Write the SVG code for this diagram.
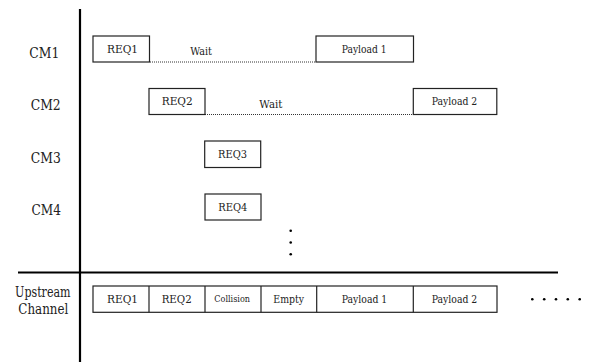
<svg xmlns="http://www.w3.org/2000/svg" width="589" height="362" viewBox="0 0 589 362">
<style>
text{fill:#222;font-family:'DejaVu Serif','Liberation Serif',serif;text-anchor:middle}
.lbl{font-size:14.5px}
.bt{font-size:10.5px}
.sm{font-size:9px}
.box{fill:#fff;stroke:#222;stroke-width:1.2}
.axis{stroke:#000;stroke-width:2.2;fill:none}
.dot{stroke:#333;stroke-width:1;stroke-dasharray:1 1;fill:none}
.d{fill:#000}
</style>
<g id="axes">
<line class="axis" x1="80" y1="9" x2="80" y2="362"/>
<line class="axis" x1="18" y1="272.5" x2="558" y2="272.5"/>
</g>
<g id="labels">
<text class="lbl" x="44.3" y="57.5" textLength="30" lengthAdjust="spacingAndGlyphs">CM1</text>
<text class="lbl" x="45.7" y="110" textLength="30" lengthAdjust="spacingAndGlyphs">CM2</text>
<text class="lbl" x="45.8" y="163" textLength="30" lengthAdjust="spacingAndGlyphs">CM3</text>
<text class="lbl" x="46.3" y="215" textLength="29.5" lengthAdjust="spacingAndGlyphs">CM4</text>
<text class="lbl" x="42.8" y="296.5" textLength="55.5" lengthAdjust="spacingAndGlyphs">Upstream</text>
<text class="lbl" x="43.3" y="314" textLength="50" lengthAdjust="spacingAndGlyphs">Channel</text>
</g>
<g id="connectors">
<line class="dot" x1="150" y1="62" x2="316" y2="62"/>
<line class="dot" x1="205" y1="114.5" x2="413" y2="114.5"/>
</g>
<g id="cm1">
<rect class="box" x="93" y="36" width="56.5" height="26"/>
<text class="bt" x="122.5" y="53.3" textLength="31" lengthAdjust="spacingAndGlyphs">REQ1</text>
<text class="bt" x="201" y="55.3" textLength="21.7" lengthAdjust="spacingAndGlyphs">Wait</text>
<rect class="box" x="316" y="36" width="97.5" height="26"/>
<text class="bt" x="364.2" y="53.3" textLength="45" lengthAdjust="spacingAndGlyphs">Payload 1</text>
</g>
<g id="cm2">
<rect class="box" x="149" y="88.5" width="56" height="26"/>
<text class="bt" x="177.2" y="104.8" textLength="31" lengthAdjust="spacingAndGlyphs">REQ2</text>
<text class="bt" x="270.8" y="107.5" textLength="23" lengthAdjust="spacingAndGlyphs">Wait</text>
<rect class="box" x="413.3" y="88.5" width="83.5" height="26"/>
<text class="bt" x="454.5" y="105" textLength="45.6" lengthAdjust="spacingAndGlyphs">Payload 2</text>
</g>
<g id="cm3">
<rect class="box" x="204.7" y="141" width="56" height="26.5"/>
<text class="bt" x="232.5" y="157.7" textLength="29" lengthAdjust="spacingAndGlyphs">REQ3</text>
</g>
<g id="cm4">
<rect class="box" x="205" y="194" width="56" height="26"/>
<text class="bt" x="232.8" y="210.7" textLength="29" lengthAdjust="spacingAndGlyphs">REQ4</text>
</g>
<g id="vdots">
<circle class="d" cx="290.7" cy="230.7" r="1.3"/>
<circle class="d" cx="290.7" cy="242.5" r="1.3"/>
<circle class="d" cx="290.7" cy="254.3" r="1.3"/>
</g>
<g id="upstream">
<rect class="box" x="93" y="286" width="404" height="26.3"/>
<line class="box" x1="149" y1="286" x2="149" y2="312.3"/>
<line class="box" x1="205" y1="286" x2="205" y2="312.3"/>
<line class="box" x1="261" y1="286" x2="261" y2="312.3"/>
<line class="box" x1="316.7" y1="286" x2="316.7" y2="312.3"/>
<line class="box" x1="413.3" y1="286" x2="413.3" y2="312.3"/>
<text class="bt" x="122.5" y="303.3" textLength="31" lengthAdjust="spacingAndGlyphs">REQ1</text>
<text class="bt" x="176.7" y="303.3" textLength="30" lengthAdjust="spacingAndGlyphs">REQ2</text>
<text class="sm" x="232.2" y="302.3" textLength="35.7" lengthAdjust="spacingAndGlyphs">Collision</text>
<text class="bt" x="288.7" y="303.3" textLength="30.7" lengthAdjust="spacingAndGlyphs">Empty</text>
<text class="bt" x="364.5" y="303.3" textLength="45.6" lengthAdjust="spacingAndGlyphs">Payload 1</text>
<text class="bt" x="454.5" y="303.3" textLength="45.6" lengthAdjust="spacingAndGlyphs">Payload 2</text>
</g>
<g id="hdots">
<circle class="d" cx="532.3" cy="299.3" r="1.3"/>
<circle class="d" cx="544.2" cy="299.3" r="1.3"/>
<circle class="d" cx="556" cy="299.3" r="1.3"/>
<circle class="d" cx="567.8" cy="299.3" r="1.3"/>
<circle class="d" cx="579.7" cy="299.3" r="1.3"/>
</g>
</svg>
